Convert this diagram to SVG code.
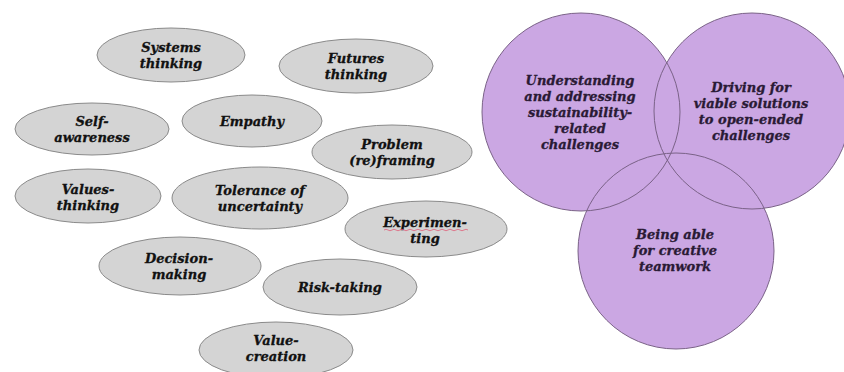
<svg xmlns="http://www.w3.org/2000/svg" width="844" height="372" viewBox="0 0 844 372">
<style>
.e{fill:#d4d4d4;stroke:#8a8a8a;stroke-width:1}
.c{fill:#cba7e3;stroke:none}
.co{fill:none;stroke:#7a6287;stroke-width:1}
text{font-family:"DejaVu Serif","Liberation Serif",serif;font-size:13px;font-weight:bold;font-style:italic;text-anchor:middle;stroke-width:0.3}
.t{fill:#111;stroke:#111}
.p{fill:#2a1a35;stroke:#2a1a35}
</style>
<rect width="844" height="372" fill="#ffffff"/>
<g id="systems-thinking"><ellipse class="e" cx="171" cy="55" rx="74" ry="27"/><text class="t" x="171" y="52">Systems</text><text class="t" x="171" y="68">thinking</text></g>
<g id="futures-thinking"><ellipse class="e" cx="356" cy="66" rx="77" ry="27"/><text class="t" x="356" y="63">Futures</text><text class="t" x="356" y="79">thinking</text></g>
<g id="self-awareness"><ellipse class="e" cx="92" cy="129" rx="77" ry="26"/><text class="t" x="92" y="126">Self-</text><text class="t" x="92" y="142">awareness</text></g>
<g id="empathy"><ellipse class="e" cx="252" cy="121" rx="70" ry="26"/><text class="t" x="252" y="126">Empathy</text></g>
<g id="problem-reframing"><ellipse class="e" cx="392" cy="152" rx="80" ry="27"/><text class="t" x="392" y="149">Problem</text><text class="t" x="392" y="165">(re)framing</text></g>
<g id="values-thinking"><ellipse class="e" cx="88" cy="196" rx="73" ry="27"/><text class="t" x="88" y="194">Values-</text><text class="t" x="88" y="210">thinking</text></g>
<g id="tolerance-of-uncertainty"><ellipse class="e" cx="260" cy="198" rx="88" ry="31"/><text class="t" x="260" y="195">Tolerance of</text><text class="t" x="260" y="211">uncertainty</text></g>
<g id="experimenting"><ellipse class="e" cx="426" cy="229" rx="81" ry="28"/><text class="t" x="425" y="227">Experimen-</text><text class="t" x="425" y="243">ting</text><path d="M384 230 q2 -1.5 4 0 t4 0 t4 0 t4 0 t4 0 t4 0 t4 0 t4 0 t4 0 t4 0 t4 0 t4 0 t4 0 t4 0 t4 0 t4 0 t4 0 t4 0 t4 0 t4 0 t4 0" fill="none" stroke="#e0607a" stroke-width="0.8"/></g>
<g id="decision-making"><ellipse class="e" cx="180" cy="266" rx="81" ry="29"/><text class="t" x="179" y="263">Decision-</text><text class="t" x="179" y="279">making</text></g>
<g id="risk-taking"><ellipse class="e" cx="340" cy="287" rx="77" ry="28"/><text class="t" x="340" y="292">Risk-taking</text></g>
<g id="value-creation"><ellipse class="e" cx="276" cy="350" rx="77" ry="28"/><text class="t" x="276" y="345">Value-</text><text class="t" x="276" y="361">creation</text></g>
<g id="circle-fills">
<circle class="c" cx="581" cy="112" r="99"/>
<circle class="c" cx="752" cy="111" r="98"/>
<circle class="c" cx="676" cy="251" r="98"/>
</g>
<g id="understanding-sustainability"><circle class="co" cx="581" cy="112" r="99"/><text class="p" x="580" y="85">Understanding</text><text class="p" x="580" y="101">and addressing</text><text class="p" x="580" y="117">sustainability-</text><text class="p" x="580" y="133">related</text><text class="p" x="580" y="149">challenges</text></g>
<g id="driving-viable-solutions"><circle class="co" cx="752" cy="111" r="98"/><text class="p" x="751" y="92">Driving for</text><text class="p" x="751" y="108">viable solutions</text><text class="p" x="751" y="124">to open-ended</text><text class="p" x="751" y="140">challenges</text></g>
<g id="creative-teamwork"><circle class="co" cx="676" cy="251" r="98"/><text class="p" x="675" y="239">Being able</text><text class="p" x="675" y="255">for creative</text><text class="p" x="675" y="271">teamwork</text></g>
</svg>
